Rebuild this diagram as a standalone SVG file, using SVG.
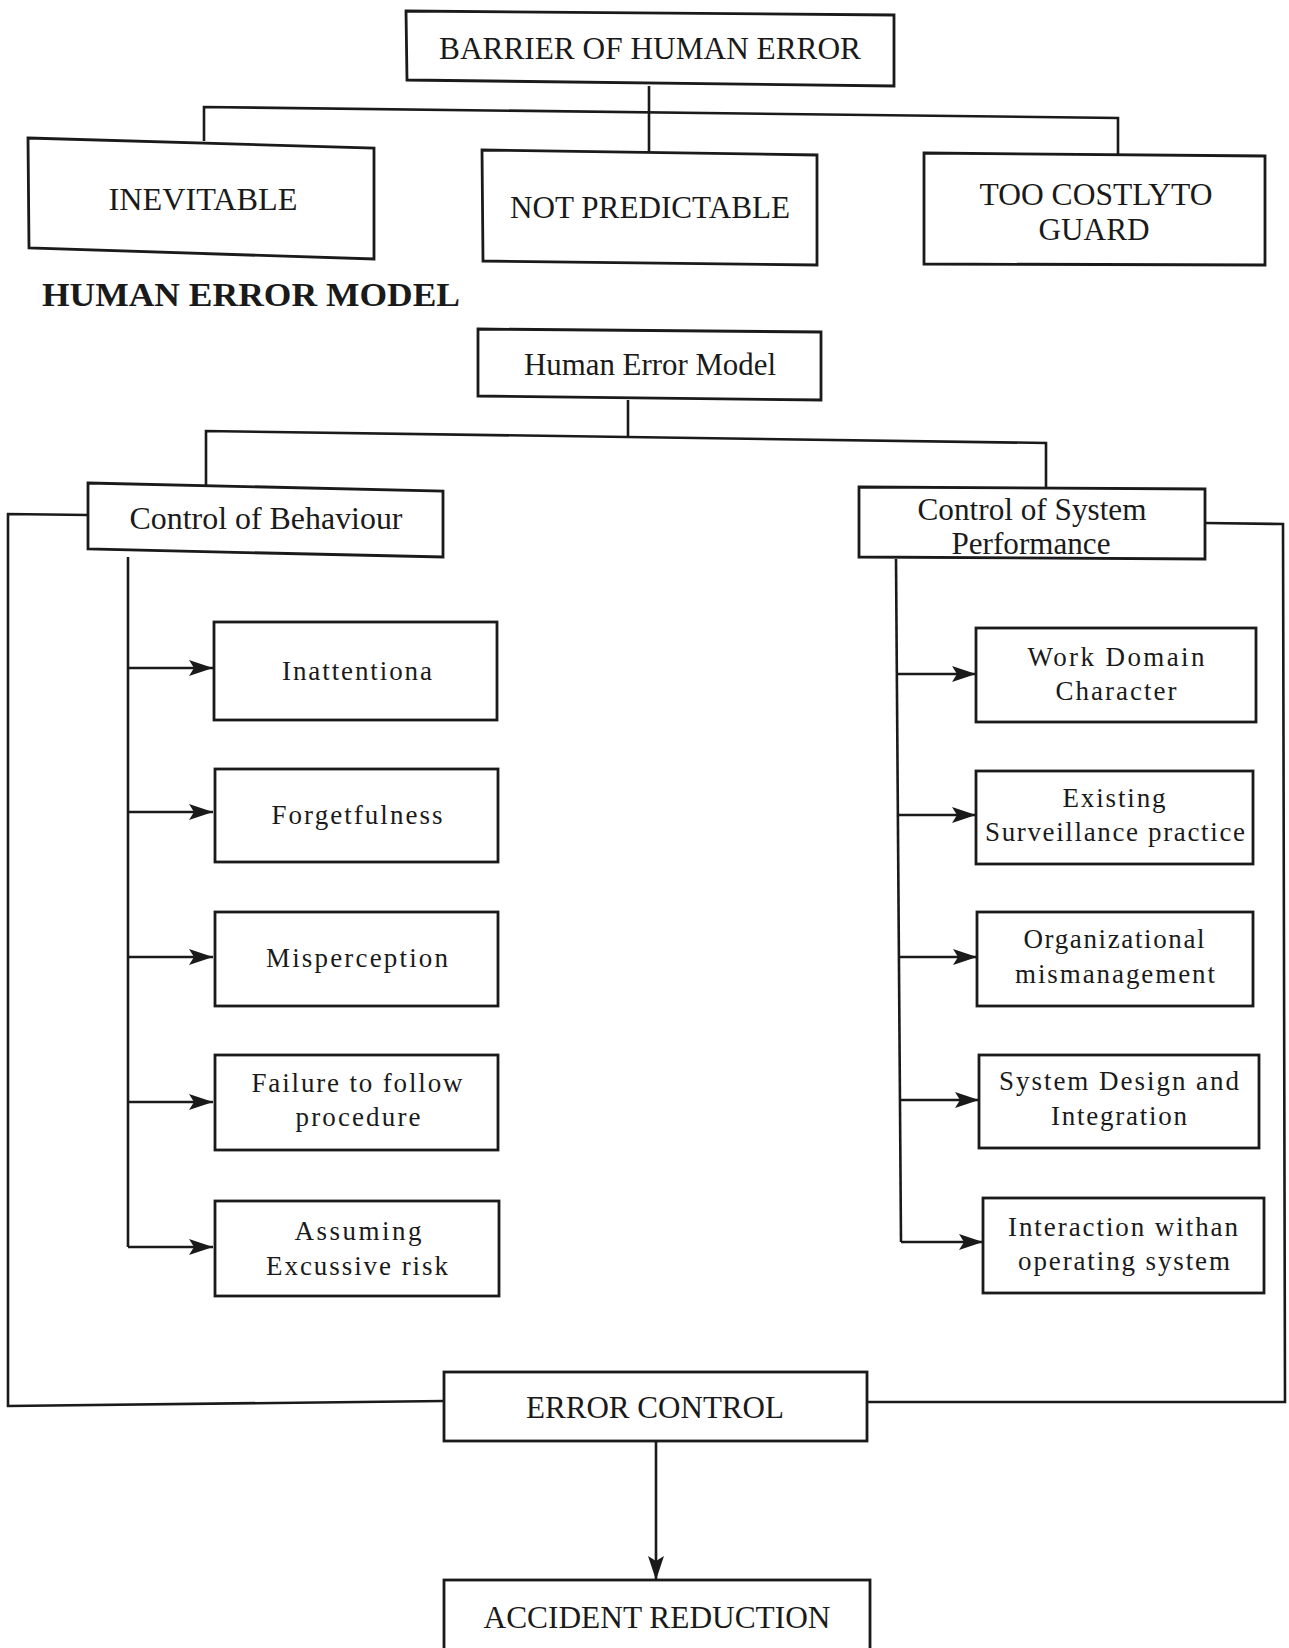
<svg xmlns="http://www.w3.org/2000/svg" width="1289" height="1648" viewBox="0 0 1289 1648">
<style>
.box{fill:#fff;stroke:#1a1a1a;stroke-width:2.8}
.ln{fill:none;stroke:#1a1a1a;stroke-width:2.6}
.t{font-family:"Liberation Serif","Times New Roman",serif;font-size:31px;fill:#1a1a1a;text-anchor:middle}
.s{font-family:"Liberation Serif","Times New Roman",serif;font-size:27px;fill:#1a1a1a;text-anchor:middle}
.h{font-family:"Liberation Serif","Times New Roman",serif;font-size:34px;font-weight:bold;fill:#1a1a1a}
</style>
<defs>
<marker id="ah" markerUnits="userSpaceOnUse" markerWidth="26" markerHeight="16" refX="24" refY="8" orient="auto">
<path d="M0,0 L24,8 L0,16 L5,8 Z" fill="#1a1a1a"/>
</marker>
</defs>
<rect width="1289" height="1648" fill="#fff"/>

<g id="connectors">
<path class="ln" d="M649,86 V152"/>
<path class="ln" d="M204,141 V107 L1118,118 V155"/>
<path class="ln" d="M628,400 V437"/>
<path class="ln" d="M206,485 V431 L1046,443 V488"/>
<path class="ln" d="M88,515 L8,514 V1406 L444,1401"/>
<path class="ln" d="M1205,523 L1283,524 L1285,1402 H867"/>
<path class="ln" d="M128,557 V1247"/>
<path class="ln" d="M128,668 H213" marker-end="url(#ah)"/>
<path class="ln" d="M128,812 H213" marker-end="url(#ah)"/>
<path class="ln" d="M128,957 H213" marker-end="url(#ah)"/>
<path class="ln" d="M128,1102 H213" marker-end="url(#ah)"/>
<path class="ln" d="M128,1247 H213" marker-end="url(#ah)"/>
<path class="ln" d="M896,559 L901,1242"/>
<path class="ln" d="M896,674 H976" marker-end="url(#ah)"/>
<path class="ln" d="M897,815 H976" marker-end="url(#ah)"/>
<path class="ln" d="M898,957 H977" marker-end="url(#ah)"/>
<path class="ln" d="M900,1100 H979" marker-end="url(#ah)"/>
<path class="ln" d="M901,1242 H983" marker-end="url(#ah)"/>
<path class="ln" d="M656,1441 V1580" marker-end="url(#ah)"/>
</g>

<g id="barrier">
<polygon class="box" points="406,11 894,15 894,86 407,80"/>
<text class="t" x="650" y="59" textLength="422" lengthAdjust="spacingAndGlyphs">BARRIER OF HUMAN ERROR</text>
</g>
<g id="inevitable">
<polygon class="box" points="28,138 374,148 374,259 29,248"/>
<text class="t" x="203" y="210" textLength="189" lengthAdjust="spacingAndGlyphs">INEVITABLE</text>
</g>
<g id="not-predictable">
<polygon class="box" points="482,150 817,155 817,265 483,261"/>
<text class="t" x="650" y="218" textLength="280" lengthAdjust="spacingAndGlyphs">NOT PREDICTABLE</text>
</g>
<g id="too-costly">
<polygon class="box" points="924,153 1265,156 1265,265 924,264"/>
<text class="t" x="1096" y="205" textLength="233" lengthAdjust="spacingAndGlyphs">TOO COSTLYTO</text>
<text class="t" x="1094" y="240" textLength="111" lengthAdjust="spacingAndGlyphs">GUARD</text>
</g>

<g id="title">
<text class="h" x="42" y="306" textLength="418" lengthAdjust="spacingAndGlyphs">HUMAN ERROR MODEL</text>
</g>

<g id="human-error-model">
<polygon class="box" points="478,329 821,332 821,400 478,396"/>
<text class="t" x="650" y="375" textLength="252" lengthAdjust="spacingAndGlyphs">Human Error Model</text>
</g>
<g id="control-behaviour">
<polygon class="box" points="88,483 443,491 443,557 88,549"/>
<text class="t" x="266" y="529" textLength="273" lengthAdjust="spacingAndGlyphs">Control of Behaviour</text>
</g>
<g id="control-system">
<polygon class="box" points="859,487 1205,489 1205,559 859,557"/>
<text class="t" x="1032" y="520" textLength="229" lengthAdjust="spacingAndGlyphs">Control of System</text>
<text class="t" x="1031" y="554" textLength="159" lengthAdjust="spacingAndGlyphs">Performance</text>
</g>

<g id="inattention">
<rect class="box" x="214" y="622" width="283" height="98"/>
<text class="s" x="357" y="680" textLength="150" lengthAdjust="spacing">Inattentiona</text>
</g>
<g id="forgetfulness">
<rect class="box" x="215" y="769" width="283" height="93"/>
<text class="s" x="357" y="824" textLength="171" lengthAdjust="spacing">Forgetfulness</text>
</g>
<g id="misperception">
<rect class="box" x="215" y="912" width="283" height="94"/>
<text class="s" x="357" y="967" textLength="182" lengthAdjust="spacing">Misperception</text>
</g>
<g id="failure">
<rect class="box" x="215" y="1055" width="283" height="95"/>
<text class="s" x="357" y="1092" textLength="211" lengthAdjust="spacing">Failure to follow</text>
<text class="s" x="358" y="1126" textLength="125" lengthAdjust="spacing">procedure</text>
</g>
<g id="assuming">
<rect class="box" x="215" y="1201" width="284" height="95"/>
<text class="s" x="358" y="1240" textLength="127" lengthAdjust="spacing">Assuming</text>
<text class="s" x="357" y="1275" textLength="182" lengthAdjust="spacing">Excussive risk</text>
</g>

<g id="work-domain">
<rect class="box" x="976" y="628" width="280" height="94"/>
<text class="s" x="1116" y="666" textLength="177" lengthAdjust="spacing">Work Domain</text>
<text class="s" x="1116" y="700" textLength="121" lengthAdjust="spacing">Character</text>
</g>
<g id="existing">
<rect class="box" x="976" y="771" width="277" height="93"/>
<text class="s" x="1114" y="807" textLength="103" lengthAdjust="spacing">Existing</text>
<text class="s" x="1115" y="841" textLength="260" lengthAdjust="spacing">Surveillance practice</text>
</g>
<g id="organizational">
<rect class="box" x="977" y="912" width="276" height="94"/>
<text class="s" x="1114" y="948" textLength="181" lengthAdjust="spacing">Organizational</text>
<text class="s" x="1115" y="983" textLength="200" lengthAdjust="spacing">mismanagement</text>
</g>
<g id="system-design">
<rect class="box" x="979" y="1055" width="280" height="93"/>
<text class="s" x="1119" y="1090" textLength="240" lengthAdjust="spacing">System Design and</text>
<text class="s" x="1119" y="1125" textLength="136" lengthAdjust="spacing">Integration</text>
</g>
<g id="interaction">
<rect class="box" x="983" y="1198" width="281" height="95"/>
<text class="s" x="1123" y="1236" textLength="230" lengthAdjust="spacing">Interaction withan</text>
<text class="s" x="1124" y="1270" textLength="212" lengthAdjust="spacing">operating system</text>
</g>

<g id="error-control">
<rect class="box" x="444" y="1372" width="423" height="69"/>
<text class="t" x="655" y="1418" textLength="258" lengthAdjust="spacingAndGlyphs">ERROR CONTROL</text>
</g>
<g id="accident-reduction">
<rect class="box" x="444" y="1580" width="426" height="90"/>
<text class="t" x="657" y="1628" textLength="347" lengthAdjust="spacingAndGlyphs">ACCIDENT REDUCTION</text>
</g>
</svg>
